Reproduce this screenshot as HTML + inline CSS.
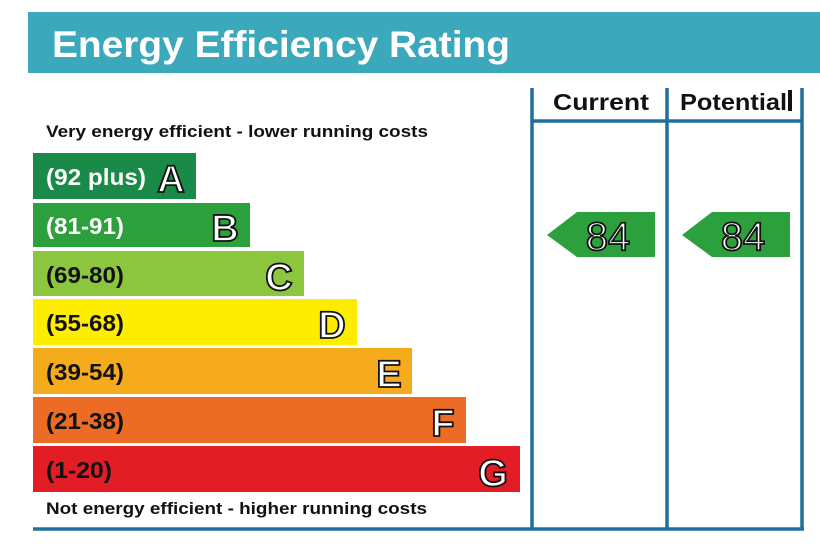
<!DOCTYPE html>
<html><head><meta charset="utf-8"><style>
html,body{margin:0;padding:0;background:#fff;}
svg{display:block;}
</style></head><body>
<svg width="820" height="547" viewBox="0 0 820 547" xmlns="http://www.w3.org/2000/svg" font-family="Liberation Sans, sans-serif">
<rect x="28" y="12" width="792" height="61" fill="#3ca8bb"/>
<text x="52" y="57" font-size="37" font-weight="bold" fill="#fff" textLength="458" lengthAdjust="spacingAndGlyphs">Energy Efficiency Rating</text>
<g stroke="#1f6f9a" stroke-width="3.5" fill="none">
<line x1="532" y1="88" x2="532" y2="530"/>
<line x1="667" y1="88" x2="667" y2="530"/>
<line x1="802" y1="88" x2="802" y2="530"/>
<line x1="532" y1="121" x2="802" y2="121"/>
<line x1="33" y1="529" x2="804" y2="529"/>
</g>
<text x="553" y="110" font-size="23" font-weight="bold" fill="#111" textLength="96" lengthAdjust="spacingAndGlyphs">Current</text>
<text x="680" y="110" font-size="23" font-weight="bold" fill="#111" textLength="107" lengthAdjust="spacingAndGlyphs">Potential</text>
<rect x="788" y="90" width="4" height="21" fill="#111"/>
<text x="46" y="137" font-size="17" font-weight="bold" fill="#111" textLength="382" lengthAdjust="spacingAndGlyphs">Very energy efficient - lower running costs</text>
<text x="46" y="514" font-size="17" font-weight="bold" fill="#111" textLength="381" lengthAdjust="spacingAndGlyphs">Not energy efficient - higher running costs</text>
<g font-weight="bold" font-size="23">
<rect x="33" y="153" width="163" height="46" fill="#1a8a48"/>
<text x="46" y="185" fill="#fff" textLength="100" lengthAdjust="spacingAndGlyphs">(92 plus)</text>
<rect x="33" y="203" width="217" height="44" fill="#2ba03c"/>
<text x="46" y="234" fill="#fff" textLength="78" lengthAdjust="spacingAndGlyphs">(81-91)</text>
<rect x="33" y="251" width="271" height="45" fill="#8cc63f"/>
<text x="46" y="283" fill="#111" textLength="78" lengthAdjust="spacingAndGlyphs">(69-80)</text>
<rect x="33" y="299" width="324" height="46" fill="#ffed00"/>
<text x="46" y="331" fill="#111" textLength="78" lengthAdjust="spacingAndGlyphs">(55-68)</text>
<rect x="33" y="348" width="379" height="46" fill="#f6ab1d"/>
<text x="46" y="380" fill="#111" textLength="78" lengthAdjust="spacingAndGlyphs">(39-54)</text>
<rect x="33" y="397" width="433" height="46" fill="#ec6b25"/>
<text x="46" y="429" fill="#111" textLength="78" lengthAdjust="spacingAndGlyphs">(21-38)</text>
<rect x="33" y="446" width="487" height="46" fill="#e31d25"/>
<text x="46" y="478" fill="#111" textLength="66" lengthAdjust="spacingAndGlyphs">(1-20)</text>
</g>
<g font-size="38" font-weight="bold" fill="#fff" stroke="#111" stroke-width="1.8" text-anchor="middle">
<text x="171" y="192">A</text>
<text x="225" y="241">B</text>
<text x="279" y="290">C</text>
<text x="332" y="338">D</text>
<text x="389" y="387">E</text>
<text x="443" y="436">F</text>
<text x="493" y="486">G</text>
</g>
<polygon points="547,235 577,212 655,212 655,257 577,257" fill="#2ba03c"/>
<polygon points="682,235 712,212 790,212 790,257 712,257" fill="#2ba03c"/>
<g font-size="40" fill="#fff" stroke="#111" stroke-width="1.8" text-anchor="middle">
<text x="608" y="250">84</text>
<text x="743" y="250">84</text>
</g>
</svg>
</body></html>
